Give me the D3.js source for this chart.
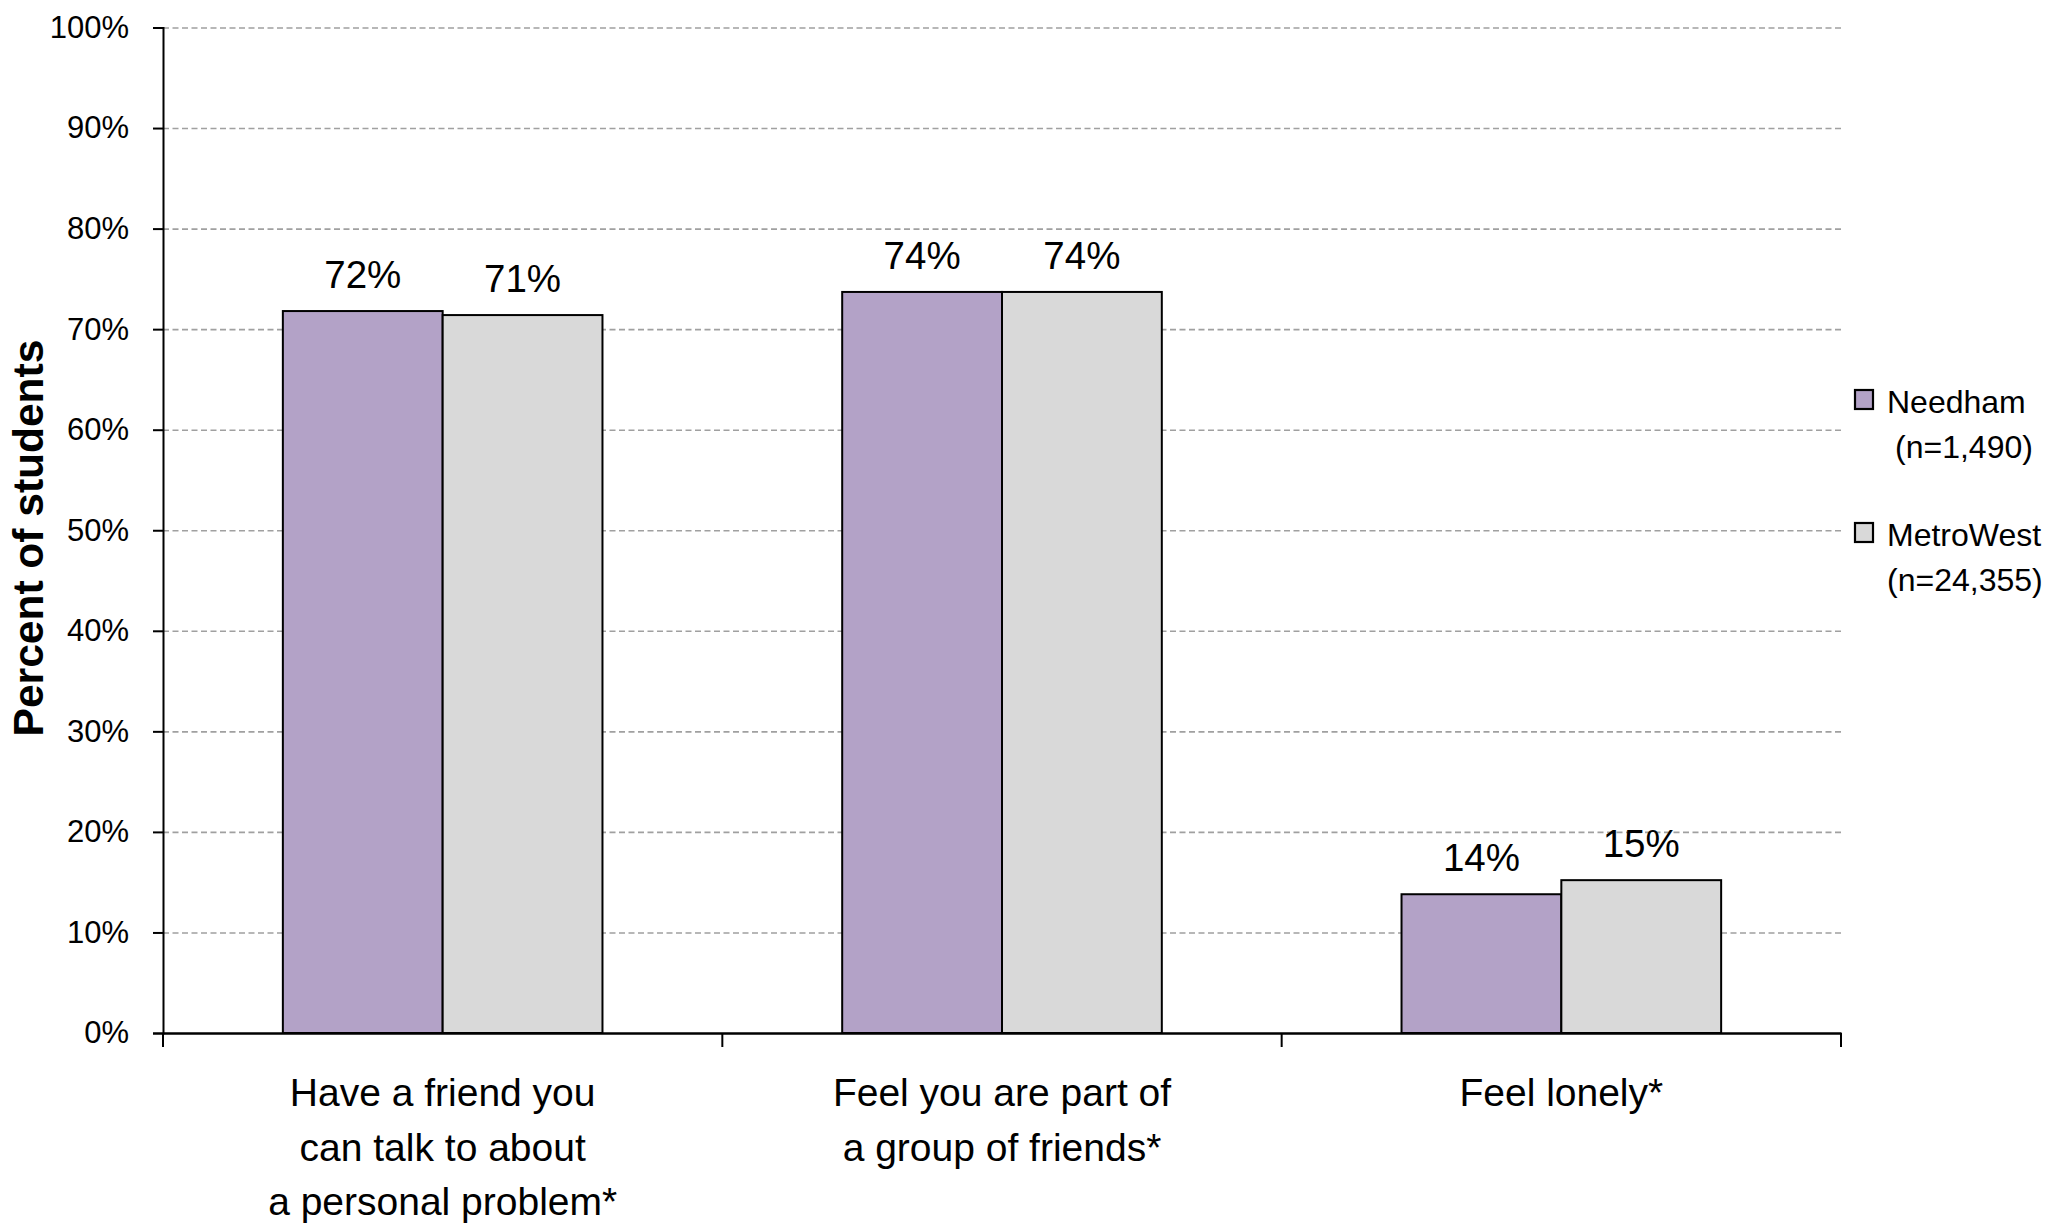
<!DOCTYPE html>
<html>
<head>
<meta charset="utf-8">
<script src="https://cdn.jsdelivr.net/npm/d3@7"></script>
<style>
  html, body { margin: 0; padding: 0; background: #ffffff; }
  svg { display: block; font-family: "Liberation Sans", Arial, sans-serif; }
</style>
</head>
<body>
<svg id="chart" width="2059" height="1225"></svg>
<script>
// ---- data ----
const categories = [
  ["Have a friend you", "can talk to about", "a personal problem*"],
  ["Feel you are part of", "a group of friends*"],
  ["Feel lonely*"]
];
const categoryKeys = ["friend", "group", "lonely"];
const seriesNames = ["Needham", "MetroWest"];
const seriesSubtitles = ["(n=1,490)", "(n=24,355)"];
const needhamValues = [0.718, 0.737, 0.138];
const metroWestValues = [0.714, 0.737, 0.152];
const valueLabelsNeedham = ["72%", "74%", "14%"];
const valueLabelsMetroWest = ["71%", "74%", "15%"];
const yTickValues = [0, 0.1, 0.2, 0.3, 0.4, 0.5, 0.6, 0.7, 0.8, 0.9, 1.0];
const seriesColors = ["#b3a2c7", "#d9d9d9"];
const yAxisTitle = "Percent of students";

(function () {
// ---- layout ----
const svg = d3.select("#chart");
const plotLeft = 163, plotRight = 1841, plotTop = 27.5, plotBottom = 1033;

const x0 = d3.scaleBand().domain(categoryKeys).range([plotLeft, plotRight]).paddingInner(0).paddingOuter(0);
const x1 = d3.scaleBand().domain(seriesNames).range([0, x0.bandwidth()]).paddingInner(0).paddingOuter(0.75);
const y = d3.scaleLinear().domain([0, 1]).range([plotBottom, plotTop]);
const color = d3.scaleOrdinal().domain(seriesNames).range(seriesColors);

const rows = categoryKeys.map((k, i) => ({
  key: k,
  values: [
    { series: seriesNames[0], value: needhamValues[i], label: valueLabelsNeedham[i] },
    { series: seriesNames[1], value: metroWestValues[i], label: valueLabelsMetroWest[i] }
  ]
}));

// gridlines
const grid = svg.append("g")
  .attr("transform", `translate(${plotLeft},0)`)
  .call(d3.axisLeft(y).tickValues(yTickValues.filter(v => v > 0)).tickSize(-(plotRight - plotLeft)).tickFormat(""));
grid.select(".domain").remove();
grid.selectAll(".tick line")
  .attr("stroke", "#a0a0a0")
  .attr("stroke-width", 1.6)
  .attr("stroke-dasharray", "6,3.5");

// bars
const groups = svg.append("g").selectAll("g")
  .data(rows).join("g")
  .attr("transform", d => `translate(${x0(d.key)},0)`);

groups.selectAll("rect")
  .data(d => d.values).join("rect")
  .attr("x", d => x1(d.series))
  .attr("y", d => y(d.value))
  .attr("width", x1.bandwidth())
  .attr("height", d => y(0) - y(d.value))
  .attr("fill", d => color(d.series))
  .attr("stroke", "#000")
  .attr("stroke-width", 2);

groups.selectAll("text.val")
  .data(d => d.values).join("text")
  .attr("class", "val")
  .attr("x", d => x1(d.series) + x1.bandwidth() / 2)
  .attr("y", d => y(d.value) - 23)
  .attr("text-anchor", "middle")
  .attr("font-size", 38.5)
  .attr("fill", "#000")
  .text(d => d.label);

// y axis
const yAxis = svg.append("g")
  .attr("transform", `translate(${plotLeft},0)`)
  .call(d3.axisLeft(y).tickValues(yTickValues).tickFormat(d3.format(".0%")).tickSize(10).tickPadding(24));
yAxis.select(".domain").attr("stroke", "#000").attr("stroke-width", 2);
yAxis.selectAll(".tick line").attr("stroke", "#000").attr("stroke-width", 2);
yAxis.selectAll(".tick text")
  .attr("font-size", 31)
  .attr("font-family", "Liberation Sans, Arial, sans-serif")
  .attr("fill", "#000");

// x axis
const xAxis = svg.append("g")
  .attr("transform", `translate(0,${plotBottom})`)
  .call(d3.axisBottom(x0).tickSize(0).tickFormat(""));
xAxis.select(".domain").attr("stroke", "#000").attr("stroke-width", 2.5);
xAxis.selectAll(".tick").remove();

const boundaries = categoryKeys.map(k => x0(k)).concat([x0(categoryKeys[categoryKeys.length - 1]) + x0.bandwidth()]);
xAxis.selectAll("line.bt")
  .data(boundaries).join("line")
  .attr("class", "bt")
  .attr("x1", d => d).attr("x2", d => d)
  .attr("y1", 0).attr("y2", 14)
  .attr("stroke", "#000").attr("stroke-width", 2);

// category labels
const catLabels = svg.append("g").selectAll("text")
  .data(rows.map((r, i) => ({ key: r.key, lines: categories[i] }))).join("text")
  .attr("x", d => x0(d.key) + x0.bandwidth() / 2)
  .attr("y", 1106)
  .attr("text-anchor", "middle")
  .attr("font-size", 39)
  .attr("fill", "#000");
catLabels.selectAll("tspan")
  .data(d => d.lines.map(l => ({ l, x: x0(d.key) + x0.bandwidth() / 2 }))).join("tspan")
  .attr("x", d => d.x)
  .attr("dy", (d, i) => i === 0 ? 0 : 54.5)
  .text(d => d.l);

// y-axis title
svg.append("text")
  .attr("transform", `translate(43,538) rotate(-90)`)
  .attr("text-anchor", "middle")
  .attr("font-size", 42.5)
  .attr("font-weight", "bold")
  .attr("fill", "#000")
  .text(yAxisTitle);

// legend
const legendBases = [413, 546];
const legend = svg.append("g").selectAll("g")
  .data(seriesNames.map((s, i) => ({ s, sub: seriesSubtitles[i], base: legendBases[i] }))).join("g");
legend.append("rect")
  .attr("x", 1855)
  .attr("y", d => d.base - 23)
  .attr("width", 18)
  .attr("height", 19)
  .attr("fill", d => color(d.s))
  .attr("stroke", "#000")
  .attr("stroke-width", 2.2);
legend.append("text")
  .attr("x", 1887)
  .attr("y", d => d.base)
  .attr("font-size", 32)
  .attr("fill", "#000")
  .text(d => d.s);
legend.append("text")
  .attr("x", (d, i) => i === 0 ? 1895 : 1887)
  .attr("y", d => d.base + 45)
  .attr("font-size", 32)
  .attr("fill", "#000")
  .text(d => d.sub);
})();
</script>
</body>
</html>
